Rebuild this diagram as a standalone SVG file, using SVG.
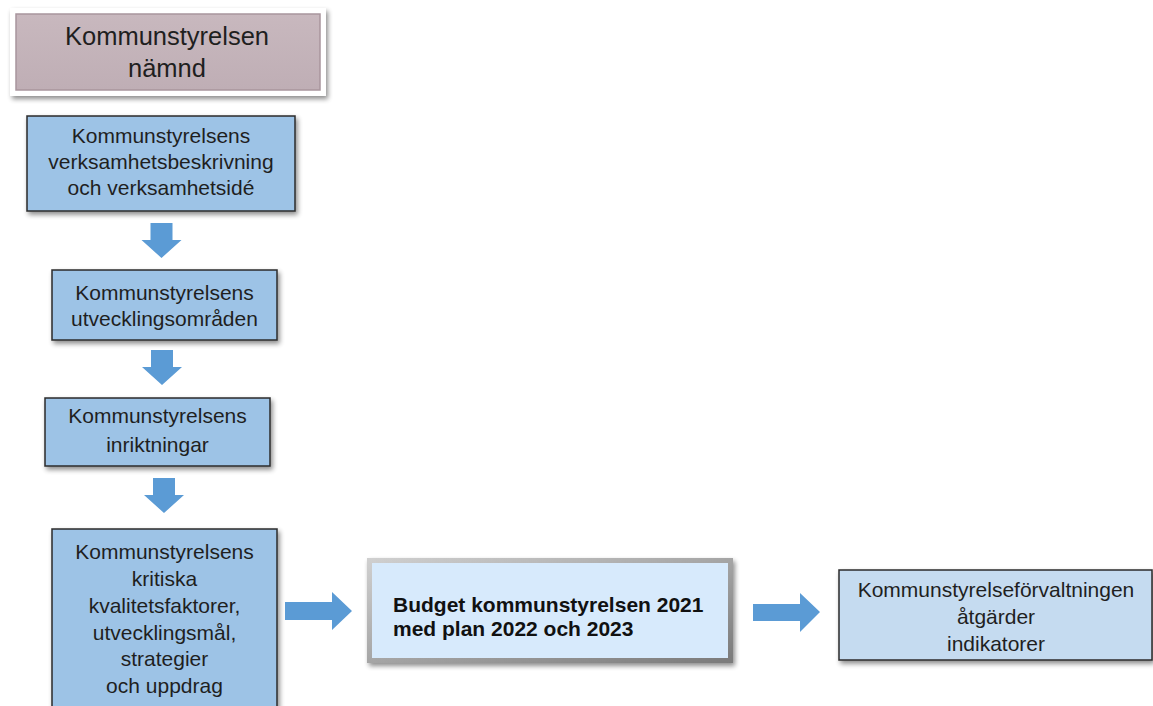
<svg xmlns="http://www.w3.org/2000/svg" width="1153" height="706" viewBox="0 0 1153 706">
<defs>
<filter id="sh" x="-10%" y="-10%" width="125%" height="130%">
<feGaussianBlur in="SourceAlpha" stdDeviation="2.5"/>
<feOffset dx="2" dy="3" result="b"/>
<feComponentTransfer><feFuncA type="linear" slope="0.45"/></feComponentTransfer>
<feMerge><feMergeNode/><feMergeNode in="SourceGraphic"/></feMerge>
</filter>
<linearGradient id="bev" x1="0" y1="0" x2="1" y2="1">
<stop offset="0" stop-color="#d0d0d0"/>
<stop offset="1" stop-color="#7a7a7a"/>
</linearGradient>
<linearGradient id="mv" x1="0" y1="0" x2="0" y2="1">
<stop offset="0" stop-color="#c8b8be"/>
<stop offset="1" stop-color="#bfaeb5"/>
</linearGradient>
<path id="adown" d="M-11,0 H11 V17 H20 L0,35 L-20,17 H-11 Z"/>
</defs>
<style>
.box{fill:#9dc3e6;stroke:#2b2b2b;stroke-width:1.5}
.lbox{fill:#c5dbf0;stroke:#2b2b2b;stroke-width:1.5}
.t{font-family:"Liberation Sans",Arial,sans-serif;font-size:21px;fill:#1f1f1f;text-anchor:middle}
.tb{font-family:"Liberation Sans",Arial,sans-serif;font-size:21px;font-weight:bold;fill:#111}
.arr{fill:#5b9bd5}
</style>
<rect width="1153" height="706" fill="#ffffff"/>

<g id="node-namnd">
<rect x="10" y="8" width="316" height="88" fill="#ffffff" filter="url(#sh)"/>
<rect x="16" y="14" width="304" height="76" fill="url(#mv)" stroke="#a8959d" stroke-width="1.5"/>
<text class="t" style="font-size:25.5px" x="167" y="45">Kommunstyrelsen</text>
<text class="t" style="font-size:25.5px" x="167" y="77">nämnd</text>
</g>

<g id="node-verksamhet">
<rect class="box" x="27" y="116" width="268" height="95" filter="url(#sh)"/>
<text class="t" x="161" y="143">Kommunstyrelsens</text>
<text class="t" x="161" y="169">verksamhetsbeskrivning</text>
<text class="t" x="161" y="195">och verksamhetsidé</text>
</g>

<g id="node-utveckling">
<rect class="box" x="52" y="270" width="225" height="70" filter="url(#sh)"/>
<text class="t" x="164.5" y="300">Kommunstyrelsens</text>
<text class="t" x="164.5" y="326">utvecklingsområden</text>
</g>

<g id="node-inriktningar">
<rect class="box" x="45" y="398" width="225" height="68" filter="url(#sh)"/>
<text class="t" x="157.5" y="423">Kommunstyrelsens</text>
<text class="t" x="157.5" y="452">inriktningar</text>
</g>

<g id="node-kritiska">
<rect class="box" x="52" y="529" width="225" height="180" filter="url(#sh)"/>
<text class="t" x="164.5" y="559">Kommunstyrelsens</text>
<text class="t" x="164.5" y="586">kritiska</text>
<text class="t" x="164.5" y="613">kvalitetsfaktorer,</text>
<text class="t" x="164.5" y="640">utvecklingsmål,</text>
<text class="t" x="164.5" y="666">strategier</text>
<text class="t" x="164.5" y="693">och uppdrag</text>
</g>

<g id="node-budget">
<rect x="367" y="558" width="366" height="105" fill="url(#bev)" filter="url(#sh)"/>
<rect x="372" y="563" width="356" height="95" fill="#d7eafc"/>
<text class="tb" x="393" y="612">Budget kommunstyrelsen 2021</text>
<text class="tb" x="393" y="636">med plan 2022 och 2023</text>
</g>

<g id="node-forvaltning">
<rect class="lbox" x="839" y="570" width="313" height="90" filter="url(#sh)"/>
<text class="t" x="996" y="597">Kommunstyrelseförvaltningen</text>
<text class="t" x="996" y="624">åtgärder</text>
<text class="t" x="996" y="651">indikatorer</text>
</g>

<g id="connectors">
<use href="#adown" class="arr" x="161.5" y="223"/>
<use href="#adown" class="arr" x="162" y="350"/>
<use href="#adown" class="arr" x="164" y="478"/>
<path class="arr" d="M285,602 H332 V592 L352,611 L332,630 V620 H285 Z"/>
<path class="arr" d="M753,604 H800 V593 L820,612 L800,632 V621 H753 Z"/>
</g>
</svg>
